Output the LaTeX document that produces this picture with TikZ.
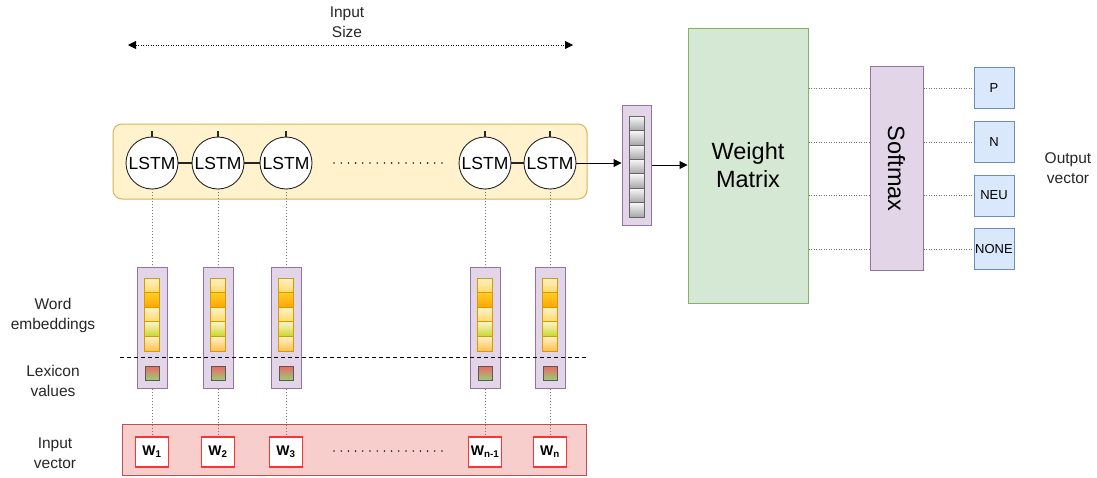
\documentclass[tikz,border=0pt]{standalone}
\usepackage{fontspec}
\setmainfont{Liberation Sans}
\usetikzlibrary{arrows.meta}

\definecolor{lstmfill}{HTML}{FFF2CC}
\definecolor{lstmline}{HTML}{D6B656}
\definecolor{purfill}{HTML}{E1D5E7}
\definecolor{purline}{HTML}{9673A6}
\definecolor{grnfill}{HTML}{D5E8D4}
\definecolor{grnline}{HTML}{82B366}
\definecolor{bluefill}{HTML}{DAE8FC}
\definecolor{blueline}{HTML}{6C8EBF}
\definecolor{redfill}{HTML}{F8CECC}
\definecolor{redline}{HTML}{B85450}
\definecolor{wline}{HTML}{FF3333}
\definecolor{cellline}{HTML}{D79B00}
\definecolor{lightA}{HTML}{FFF2CC}
\definecolor{lightB}{HTML}{FFD966}
\definecolor{orgA}{HTML}{FFCD28}
\definecolor{orgB}{HTML}{FFA500}
\definecolor{limeB}{HTML}{C8D82A}
\definecolor{lexA}{HTML}{EA6B66}
\definecolor{lexB}{HTML}{97D077}
\definecolor{dotgray}{HTML}{777777}

\tikzset{
  lbl/.style={font=\fontsize{15.5}{20}\selectfont, align=center, text=black!85, inner sep=0pt},
  lstm/.style={circle, draw=black!85, fill=white, line width=0.9pt, minimum size=52pt, inner sep=0pt,
    font=\fontsize{17.5}{18}\selectfont},
  tickmark/.style={line width=1.8pt, black!85},
  link/.style={line width=2.2pt, black!85},
  embbox/.style={draw=purline, fill=purfill, line width=1pt, minimum width=30pt, minimum height=121pt, inner sep=0pt},
  ecell/.style={draw=cellline, line width=0.8pt, minimum width=15pt, minimum height=14.6pt, inner sep=0pt},
  cellL/.style={ecell, top color=lightA, bottom color=lightB},
  cellO/.style={ecell, top color=orgA, bottom color=orgB},
  cellG/.style={ecell, top color=lightA, bottom color=limeB},
  cellY/.style={ecell, top color=lightA, bottom color=orgB!70},
  lexcell/.style={draw=black!65, line width=0.9pt, minimum size=14pt, inner sep=0pt, top color=lexA, bottom color=lexB},
  graycell/.style={draw=black!60, line width=0.9pt, minimum width=15pt, minimum height=14.4pt, inner sep=0pt,
    top color=black!3, bottom color=black!35},
  wbox/.style={draw=wline, fill=white, line width=1.1pt, minimum width=33pt, minimum height=30pt, inner sep=0pt,
    font=\fontsize{14}{16}\selectfont\bfseries},
  outbox/.style={draw=blueline, fill=bluefill, line width=0.9pt, minimum width=40pt, minimum height=41pt, inner sep=0pt,
    font=\fontsize{13}{15}\selectfont},
  vlink/.style={dotgray, line width=0.9pt, dash pattern=on 1pt off 2pt},
  hlink/.style={dotgray, line width=1pt, dash pattern=on 1pt off 1.5pt},
  ellipsisdots/.style={black!85, line width=1.8pt, line cap=round, dash pattern=on 0pt off 7.2pt},
  arr/.style={-{Triangle[length=8pt,width=8pt]}, line width=1pt, black},
  sizearrow/.style={{Triangle[length=8pt,width=8pt]}-{Triangle[length=8pt,width=8pt]}, line width=0.8pt, black,
    dash pattern=on 1pt off 1.5pt},
}

\begin{document}
\begin{tikzpicture}[x=1pt,y=-1pt]
\useasboundingbox (0,0) rectangle (1097,477);

% input size annotation
\node[lbl] (sizelbl) at (347,22) {Input\\Size};
\coordinate (sizeL) at (128,45);
\coordinate (sizeR) at (573,45);
\draw[sizearrow] (sizeL) -- (sizeR);

% LSTM layer container
\node[draw=lstmline, fill=lstmfill, line width=1pt, rounded corners=9pt,
      minimum width=474pt, minimum height=75pt, inner sep=0pt] (lstmbox) at (350,161.5) {};

% input vector container
\node[draw=redline, fill=redfill, line width=0.9pt, minimum width=464pt, minimum height=51pt, inner sep=0pt]
  (inbox) at (354,449.5) {};

% dashed separator between embeddings and lexicon values
\coordinate (sepL) at (120,357);
\coordinate (sepR) at (588,357);

% columns: LSTM cell, embedding column, input word
\foreach \i/\x/\w in {1/152/W\textsubscript{1}, 2/218/W\textsubscript{2}, 3/286/W\textsubscript{3},
                      4/485/W\textsubscript{n-1}, 5/550/W\textsubscript{n}} {
  \node[lstm] (l\i) at (\x,163) {LSTM};
  \coordinate (t\i) at (\x,131);
  \draw[tickmark] (l\i.north) -- (t\i);
  \node[embbox] (e\i) at (\x,327.5) {};
  \node[cellL] (c\i a) at (\x,285.3) {};
  \node[cellO] (c\i b) at (\x,299.9) {};
  \node[cellL] (c\i c) at (\x,314.5) {};
  \node[cellG] (c\i d) at (\x,329.1) {};
  \node[cellY] (c\i e) at (\x,343.7) {};
  \node[lexcell] (x\i) at (\x,373.5) {};
  \node[wbox] (w\i) at (\x,452) {\w};
  \draw[vlink] (l\i.south) -- (e\i.north);
  \draw[vlink] (e\i.south) -- (w\i.north);
}

\draw[black, line width=1pt, dash pattern=on 4pt off 3pt] (sepL) -- (sepR);

% recurrent links between neighbouring cells
\draw[link] (l1) -- (l2);
\draw[link] (l2) -- (l3);
\draw[link] (l4) -- (l5);

% ellipses for the omitted cells and words
\coordinate (dotsA) at (334,163);
\coordinate (dotsB) at (442,163);
\draw[ellipsisdots] (dotsA) -- (dotsB);
\coordinate (dotsC) at (334,451);
\coordinate (dotsD) at (442,451);
\draw[ellipsisdots] (dotsC) -- (dotsD);

% final hidden state vector
\node[draw=purline, fill=purfill, line width=1pt, minimum width=29pt, minimum height=120pt, inner sep=0pt]
  (hvec) at (636.5,165) {};
\foreach \k in {0,...,6} {
  \node[graycell] (g\k) at (636.5,123.5+14.4*\k) {};
}
\draw[arr] (l5.east) -- (hvec.west |- l5.east);

% weight matrix
\node[draw=grnline, fill=grnfill, line width=1pt, minimum width=120pt, minimum height=275pt, inner sep=0pt,
      font=\fontsize{23.5}{28}\selectfont, align=center] (wm) at (748,165.5) {Weight\\Matrix};
\draw[arr] (hvec.east) -- (wm.west |- hvec.east);

% softmax
\node[draw=purline, fill=purfill, line width=1pt, minimum width=53pt, minimum height=204pt, inner sep=0pt]
  (sm) at (896.5,168.5) {};
\node[rotate=-90, font=\fontsize{23.5}{26}\selectfont, inner sep=0pt] (smlbl) at (sm.center) {Softmax};

% output classes
\node[outbox] (o1) at (994,88) {P};
\node[outbox] (o2) at (994,142) {N};
\node[outbox] (o3) at (994,195.5) {NEU};
\node[outbox] (o4) at (994,249) {NONE};
\foreach \k in {1,...,4} {
  \draw[hlink] (wm.east |- o\k.west) -- (sm.west |- o\k.west);
  \draw[hlink] (sm.east |- o\k.west) -- (o\k.west);
}
\node[lbl] (outlbl) at (1068,168) {Output\\vector};

% row labels
\node[lbl] (embl) at (53,315) {Word\\embeddings};
\node[lbl] (lexl) at (53,381) {Lexicon\\values};
\node[lbl] (inl) at (55,453) {Input\\vector};
\end{tikzpicture}
\end{document}
